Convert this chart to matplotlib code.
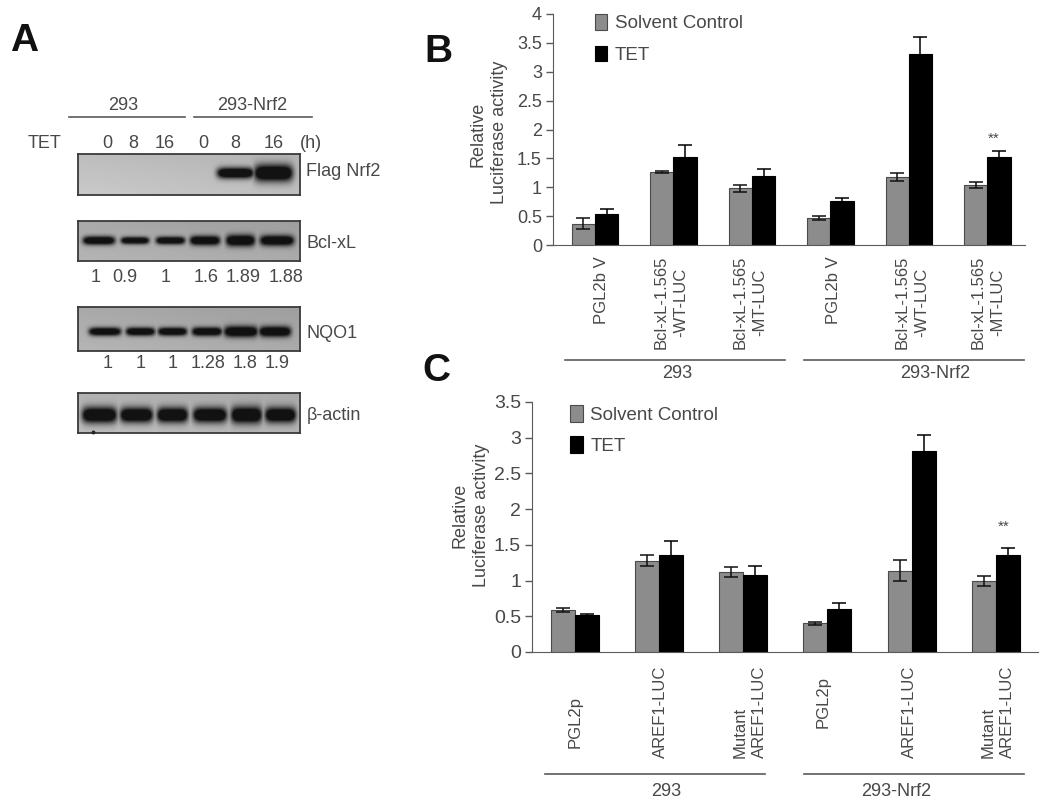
'''
Western blots and luciferase reporter bars, panels A, B and C
'''

import numpy as np
import matplotlib.pyplot as plt

plt.rcParams['font.family'] = ['Liberation Sans', 'DejaVu Sans']

W, H = 1050, 808
TXT = '#484848'
LINE = '#5a5a5a'

# panel A
time_labels = ['0', '8', '16', '0', '8', '16', '(h)']
bcl_ratio = ['1', '0.9', '1', '1.6', '1.89', '1.88']
nqo1_ratio = ['1', '1', '1', '1.28', '1.8', '1.9']
flag_bands = [0, 0, 0, 0, 0.8, 1.0]
bcl_bands = [0.9, 0.82, 0.85, 0.95, 1.05, 1.0]
nqo1_bands = [0.92, 0.92, 0.92, 0.95, 1.08, 1.05]
actin_bands = [1.0, 0.97, 0.97, 0.97, 1.02, 0.97]

# panel B
b_solvent = [0.37, 1.26, 0.98, 0.47, 1.18, 1.04]
b_solvent_err = [0.09, 0.02, 0.06, 0.04, 0.07, 0.05]
b_tet = [0.53, 1.53, 1.2, 0.77, 3.3, 1.53]
b_tet_err = [0.1, 0.21, 0.12, 0.05, 0.3, 0.1]
b_ticks = [0, 0.5, 1, 1.5, 2, 2.5, 3, 3.5, 4]
b_ticklabels = ['0', '0.5', '1', '1.5', '2', '2.5', '3', '3.5', '4']
b_labels = ['PGL2b V', 'Bcl-xL-1.565\n-WT-LUC', 'Bcl-xL-1.565\n-MT-LUC',
            'PGL2b V', 'Bcl-xL-1.565\n-WT-LUC', 'Bcl-xL-1.565\n-MT-LUC']

# panel C
c_solvent = [0.59, 1.28, 1.12, 0.4, 1.14, 0.99]
c_solvent_err = [0.03, 0.08, 0.07, 0.02, 0.15, 0.07]
c_tet = [0.52, 1.36, 1.08, 0.6, 2.81, 1.36]
c_tet_err = [0.01, 0.2, 0.13, 0.08, 0.23, 0.1]
c_ticks = [0, 0.5, 1, 1.5, 2, 2.5, 3, 3.5]
c_ticklabels = ['0', '0.5', '1', '1.5', '2', '2.5', '3', '3.5']
c_labels = ['PGL2p', 'AREF1-LUC', 'Mutant\nAREF1-LUC',
            'PGL2p', 'AREF1-LUC', 'Mutant\nAREF1-LUC']


def px_axes(left, top, right, bottom):
    return fig.add_axes([left / W, 1 - bottom / H, (right - left) / W, (bottom - top) / H])


def blot(top, bottom, strengths, spans, cy, half_h, bg):
    # spans are the lane extents in figure pixels
    ax = px_axes(78, top, 300, bottom)
    xx, yy = np.meshgrid(np.arange(78, 300) + 0.5, np.arange(top, bottom) + 0.5)
    dark = np.zeros(xx.shape)
    for s, (x0, x1) in zip(strengths, spans):
        if s == 0:
            continue
        cx, hw = (x0 + x1) / 2, (x1 - x0) / 2
        prof = np.exp(-((xx - cx) / hw) ** 6) * np.exp(-((yy - cy) / (half_h * s ** 2)) ** 2)
        dark = np.maximum(dark, prof)
    shade = bg + 0.05 * (yy - top) / (bottom - top) - 0.04 * (xx - 78) / 222
    img = shade * (1 - 0.9 * np.clip(dark * 1.5, 0, 1))
    ax.imshow(img, cmap='gray', vmin=0, vmax=1, aspect='auto', interpolation='bilinear')
    ax.set_xticks([])
    ax.set_yticks([])
    for sp in ax.spines.values():
        sp.set_color('#3a3a3a')
        sp.set_linewidth(1.3)


def bars(rect, solvent, solvent_err, tet, tet_err, ticks, ticklabels, xlim, ylim, width, tick_fs):
    ax = px_axes(*rect)
    x = np.arange(len(solvent))
    err = dict(lw=1.1, capsize=5, capthick=1.1)
    ax.bar(x - width / 2, solvent, width, yerr=solvent_err, color='#8c8c8c', ecolor='#111111',
           edgecolor='#4a4a4a', linewidth=0.8, label='Solvent Control', error_kw=err)
    ax.bar(x + width / 2, tet, width, yerr=tet_err, color='#000000', ecolor='#000000',
           edgecolor='#000000', linewidth=0.8, label='TET', error_kw=err)
    ax.set_xlim(*xlim)
    ax.set_ylim(*ylim)
    ax.set_xticks([])
    ax.set_yticks(ticks)
    ax.set_yticklabels(ticklabels, fontsize=tick_fs, color=TXT)
    ax.tick_params(axis='y', length=5, width=1, color=LINE, pad=3)
    ax.spines['top'].set_visible(False)
    ax.spines['right'].set_visible(False)
    ax.spines['left'].set_color(LINE)
    ax.spines['bottom'].set_color(LINE)
    ax.patch.set_alpha(0)
    return ax


fig = plt.figure(figsize=(W / 100, H / 100), dpi=100)

# overlay in figure pixels, for everything that sits outside the plot areas
ov = fig.add_axes([0, 0, 1, 1], zorder=5)
ov.set_xlim(0, W)
ov.set_ylim(H, 0)
ov.axis('off')


def label(x, y, s, fs=13, ha='center', va='center', **kw):
    kw.setdefault('color', TXT)
    ov.text(x, y, s, fontsize=fs, ha=ha, va=va, **kw)


# Panel A
blot(154, 195, flag_bands,
     [(215, 253), (253, 292), (215, 253), (215, 253), (217, 254), (254, 293)], 173, 8.5, 0.74)
blot(221, 261, bcl_bands,
     [(83, 115), (121, 149), (156, 185), (190, 220), (226, 255), (260, 294)], 241, 5.0, 0.66)
blot(307, 351, nqo1_bands,
     [(89, 121), (126, 155), (158, 187), (192, 222), (224, 258), (259, 291)], 332, 4.6, 0.66)
blot(393, 433, actin_bands,
     [(82, 117), (120, 153), (157, 188), (193, 227), (231, 262), (265, 296)], 415, 8.0, 0.7)

ov.plot([69, 185], [117, 117], color=LINE, lw=1.2)
ov.plot([194, 312], [117, 117], color=LINE, lw=1.2)
label(123, 105, '293')
label(252, 105, '293-Nrf2')
label(45, 143, 'TET')
for xp, s in zip([107, 133, 165, 203, 235, 274, 311], time_labels):
    label(xp, 143, s)
label(306, 172, 'Flag Nrf2', ha='left')
label(307, 243, 'Bcl-xL', ha='left')
label(306, 333, 'NQO1', ha='left')
label(307, 415, 'β-actin', ha='left')
for xp, s in zip([96, 125, 166, 206, 243, 286], bcl_ratio):
    label(xp, 277, s)
for xp, s in zip([108, 141, 173, 208, 245, 277], nqo1_ratio):
    label(xp, 363, s)
ov.plot([93], [432], 'o', color='#222222', ms=1.8)

label(10, 41, 'A', fs=28, ha='left', color='#111111', fontweight='bold')
label(424, 52, 'B', fs=28, ha='left', color='#111111', fontweight='bold')
label(422, 371, 'C', fs=28, ha='left', color='#111111', fontweight='bold')

# Panel B
ax_b = bars((553, 14, 1025, 245), b_solvent, b_solvent_err, b_tet, b_tet_err,
            b_ticks, b_ticklabels, (-0.535, 5.48), (0, 4), 0.296, 13)
ax_b.legend(loc='upper left', bbox_to_anchor=(0.09, 1.0), frameon=False, fontsize=13.5,
            labelcolor=TXT, handlelength=0.62, handleheight=0.9, handletextpad=0.4,
            labelspacing=0.72, borderpad=0, borderaxespad=0)
label(478, 134, 'Relative', rotation=90)
label(500, 132, 'Luciferase activity', rotation=90)
for xp, s in zip([601, 671, 750, 834, 912, 988], b_labels):
    label(xp, 256, s, fs=12, va='top', rotation=90, ma='center', linespacing=1.4)
ov.plot([565, 785], [360, 360], color=LINE, lw=1.2)
ov.plot([804, 1024], [360, 360], color=LINE, lw=1.2)
label(677, 373, '293')
label(935, 373, '293-Nrf2')
label(994, 139, '**', fs=11)

# Panel C
ax_c = bars((532, 402, 1038, 652), c_solvent, c_solvent_err, c_tet, c_tet_err,
            c_ticks, c_ticklabels, (-0.506, 5.5), (0, 3.5), 0.285, 14)
ax_c.legend(loc='upper left', bbox_to_anchor=(0.075, 0.988), frameon=False, fontsize=13.5,
            labelcolor=TXT, handlelength=0.68, handleheight=0.98, handletextpad=0.4,
            labelspacing=0.68, borderpad=0, borderaxespad=0)
label(460, 515, 'Relative', rotation=90)
label(482, 515, 'Luciferase activity', rotation=90)
for xp, yp, s in zip([575, 660, 750, 823, 909, 998], [748, 758, 758, 728, 758, 758], c_labels):
    label(xp, yp, s, fs=12, va='bottom', rotation=90, ma='left', linespacing=1.4)
ov.plot([545, 765], [774, 774], color=LINE, lw=1.2)
ov.plot([804, 1024], [774, 774], color=LINE, lw=1.2)
label(666, 792, '293')
label(896, 792, '293-Nrf2')
label(1004, 527, '**', fs=11)

plt.savefig('out.png', dpi=100)
print('DONE')
